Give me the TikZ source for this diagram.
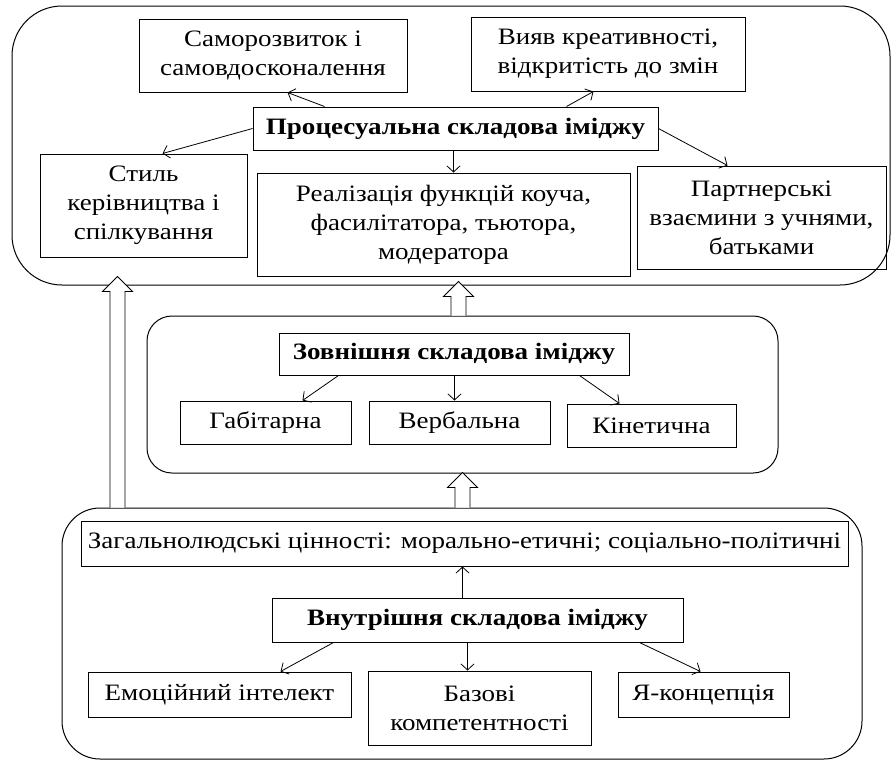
\documentclass[tikz,border=0pt]{standalone}
\usepackage{fontspec}
\setmainfont[FakeStretch=1.15]{Liberation Serif}
\usetikzlibrary{arrows.meta,calc}
\newcommand\myblockarrow[2]{\path[blockarr] let \p1=(#1), \p2=(#2) in
  (\x1-7.5pt,\y1) -- (\x1-7.5pt,\y2-15pt) -- (\x1-15pt,\y2-15pt) -- (\x2,\y2)
  -- (\x1+15pt,\y2-15pt) -- (\x1+7.5pt,\y2-15pt) -- (\x1+7.5pt,\y1);}
\tikzset{
  box/.style={draw, line width=1pt, align=center, inner sep=0pt, font=\fontsize{23.5}{29}\selectfont},
  bbox/.style={box, font=\fontsize{23.5}{29}\selectfont\bfseries},
  outer/.style={draw, line width=1pt, inner sep=0pt},
  arr/.style={-{Straight Barb[length=6pt,width=13pt]}, line width=0.8pt},
  blockarr/.style={draw, line width=0.9pt, fill=white},
}
\begin{document}
\begin{tikzpicture}[x=1pt, y=-1pt]
\useasboundingbox (0,0) rectangle (892,761);
% outer frames
\node[outer, rounded corners=50pt, minimum width=878pt, minimum height=279pt] (topbox) at (451,145.5) {};
\node[outer, rounded corners=25pt, minimum width=631pt, minimum height=157pt] (midbox) at (462.5,394.5) {};
\node[outer, rounded corners=38pt, minimum width=800pt, minimum height=251pt] (botbox) at (462,633.5) {};
% block arrows
\coordinate (la1) at ($(botbox.north west)+(56,0)$);
\coordinate (la2) at ($(topbox.south west)+(106,-9)$);
\coordinate (ma1) at ($(midbox.north west)+(312,0)$);
\coordinate (ma2) at ($(topbox.south west)+(447,-4)$);
\coordinate (ba1) at ($(botbox.north west)+(401,0)$);
\coordinate (ba2) at ($(midbox.south west)+(316,-1)$);
\myblockarrow{la1}{la2}
\myblockarrow{ma1}{ma2}
\myblockarrow{ba1}{ba2}
% top section
\node[box, minimum width=268pt, minimum height=73pt] (sam) at (273,55.5) {Саморозвиток і\\самовдосконалення};
\node[box, minimum width=274pt, minimum height=74pt] (vyav) at (608,54) {Вияв креативності,\\відкритість до змін};
\node[bbox, minimum width=405pt, minimum height=43pt] (proc) at (455.5,128.5) {Процесуальна складова іміджу};
\node[box, minimum width=207pt, minimum height=103pt] (styl) at (143.5,205.5) {Стиль\\керівництва і\\спілкування};
\node[box, minimum width=373pt, minimum height=103pt] (real) at (443.5,224.5) {Реалізація функцій коуча,\\фасилітатора, тьютора,\\модератора};
\node[box, minimum width=249pt, minimum height=103pt] (part) at (761.5,217.5) {Партнерські\\взаємини з учнями,\\батьками};
\coordinate (pr) at ($(proc.south west)+(201,0)$);
\draw[arr] ($(proc.north west)+(72,0)$) -- ($(sam.south west)+(149,0)$);
\draw[arr] ($(proc.north west)+(314,0)$) -- ($(vyav.south west)+(123,0)$);
\draw[arr] (proc.west) -- ($(styl.north west)+(123,0)$);
\draw[arr] (pr) -- (pr |- real.north);
\draw[arr] (proc.east) -- ($(part.north west)+(91,0)$);
% middle section
\node[bbox, minimum width=350pt, minimum height=42pt] (zovn) at (454,354) {Зовнішня складова іміджу};
\node[box, minimum width=171pt, minimum height=43pt] (hab) at (265.5,422.5) {Габітарна};
\node[box, minimum width=181pt, minimum height=43pt] (verb) at (459.5,422.5) {Вербальна};
\node[box, minimum width=169pt, minimum height=43pt] (kin) at (651.5,425.5) {Кінетична};
\coordinate (zv) at ($(zovn.south west)+(176,0)$);
\draw[arr] ($(zovn.south west)+(60,0)$) -- ($(hab.north west)+(123,0)$);
\draw[arr] (zv) -- (zv |- verb.north);
\draw[arr] ($(zovn.south west)+(301,0)$) -- ($(kin.north west)+(53,0)$);
% bottom section
\node[box, minimum width=767pt, minimum height=45pt] (zag) at (464.5,543.5) {Загальнолюдські цінності: морально-етичні; соціально-політичні};
\node[bbox, minimum width=411pt, minimum height=44pt] (vnut) at (477.5,620) {Внутрішня складова іміджу};
\node[box, minimum width=263pt, minimum height=45pt] (emo) at (219.5,694.5) {Емоційний інтелект};
\node[box, minimum width=223pt, minimum height=74pt] (baz) at (479.5,708) {Базові\\компетентності};
\node[box, minimum width=171pt, minimum height=45pt] (ya) at (703.5,694.5) {Я-концепція};
\coordinate (vz) at ($(vnut.north west)+(191,0)$);
\coordinate (vb) at ($(vnut.south west)+(196,0)$);
\draw[arr] (vz) -- (vz |- zag.south);
\draw[arr] ($(vnut.south west)+(62,0)$) -- ($(emo.north west)+(193,0)$);
\draw[arr] (vb) -- (vb |- baz.north);
\draw[arr] ($(vnut.south west)+(368,0)$) -- ($(ya.north west)+(83,0)$);
\end{tikzpicture}
\end{document}
